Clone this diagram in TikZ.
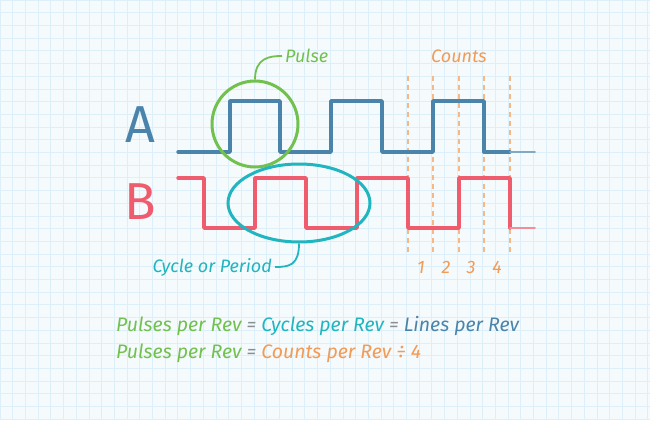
\documentclass[tikz,border=0pt]{standalone}
\usepackage{fontspec}
\setmainfont{Fira Sans}
\usetikzlibrary{shapes.geometric}
\definecolor{bgc}{HTML}{F5FAFD}
\definecolor{gridc}{HTML}{DDEFF8}
\definecolor{sigA}{HTML}{4A84AB}
\definecolor{sigB}{HTML}{EE5C6E}
\definecolor{pulsec}{HTML}{72C04E}
\definecolor{cyclec}{HTML}{20B5BF}
\definecolor{countc}{HTML}{F39A55}
\definecolor{eqc}{HTML}{8A8F94}
\tikzset{
  sigline/.style={line width=3.4pt, line join=round, line cap=round},
  fadeline/.style={line width=1.6pt, line cap=round},
  markline/.style={line width=3pt},
  countline/.style={countc!70, line width=1.8pt, dash pattern=on 5pt off 4pt},
  lbl/.style={font=\fontsize{18}{21}\selectfont\itshape, inner sep=0pt},
  eqlbl/.style={font=\fontsize{19.5}{23}\selectfont\itshape, inner sep=0pt},
  bigl/.style={font=\fontsize{52}{58}\selectfont, inner sep=0pt},
}
\begin{document}
\begin{tikzpicture}[x=1pt,y=-1pt]
\useasboundingbox (0,0) rectangle (650,420);
\fill[bgc] (0,0) rectangle (650,420);
\foreach \i in {0,...,51} {
  \draw[gridc, line width=0.8pt] (\i*12.7,0) -- (\i*12.7,420);
}
\foreach \j in {0,...,33} {
  \draw[gridc, line width=0.8pt] (0,\j*12.7) -- (650,\j*12.7);
}
% letters
\node[bigl, text=sigA] (la) at (140,125) {A};
\node[bigl, text=sigB] (lb) at (140,202) {B};
% count lines
\foreach \x/\n in {408/c0,433/c1,459/c2,484/c3,510/c4} {
  \coordinate (\n t) at (\x,76);
  \coordinate (\n b) at (\x,253);
  \draw[countline] (\n t) -- (\n b);
}
% signal A
\draw[sigline, sigA] (178,152) -- (230,152) -- (230,101) -- (280,101) -- (280,152)
  -- (331,152) -- (331,101) -- (382,101) -- (382,152) -- (433,152) -- (433,101)
  -- (484,101) -- (484,152) -- (510,152);
\draw[fadeline, sigA!70] (510,152) -- (535,152);
% signal B
\draw[sigline, sigB] (178,178) -- (204,178) -- (204,228) -- (255,228) -- (255,178)
  -- (306,178) -- (306,228) -- (357,228) -- (357,178) -- (408,178) -- (408,228)
  -- (459,228) -- (459,178) -- (510,178) -- (510,228);
\draw[fadeline, sigB!70] (510,228) -- (535,228);
% pulse circle
\node[circle, draw=pulsec, markline, minimum size=86pt, inner sep=0pt] (pc) at (255,124) {};
\node[lbl, text=pulsec, anchor=west, inner xsep=3pt] (pl) at (282,56) {Pulse};
\draw[pulsec, line width=1.8pt] (pc.north) .. controls +(0,-22) and +(-12,0) .. (pl.west);
% cycle ellipse
\node[ellipse, draw=cyclec, markline, minimum width=142pt, minimum height=78pt, inner sep=0pt] (ce) at (299,203) {};
\node[lbl, text=cyclec, anchor=east, inner xsep=3pt] (cl) at (275,267) {Cycle or Period};
\draw[cyclec, line width=1.8pt] (ce.south) .. controls +(0,22) and +(14,0) .. (cl.east);
% counts
\node[lbl, text=countc] (cn) at (459,56) {Counts};
\node[lbl, text=countc] (n1) at (421,267) {1};
\node[lbl, text=countc] (n2) at (446,267) {2};
\node[lbl, text=countc] (n3) at (471,267) {3};
\node[lbl, text=countc] (n4) at (497,267) {4};
% formulas
\node[eqlbl, anchor=west] (f1) at (116,326) {\textcolor{pulsec}{Pulses per Rev} \textcolor{eqc}{=} \textcolor{cyclec}{Cycles per Rev} \textcolor{eqc}{=} \textcolor{sigA}{Lines per Rev}};
\node[eqlbl, anchor=west] (f2) at (116,353) {\textcolor{pulsec}{Pulses per Rev} \textcolor{eqc}{=} \textcolor{countc}{Counts per Rev ÷ 4}};
\end{tikzpicture}
\end{document}
